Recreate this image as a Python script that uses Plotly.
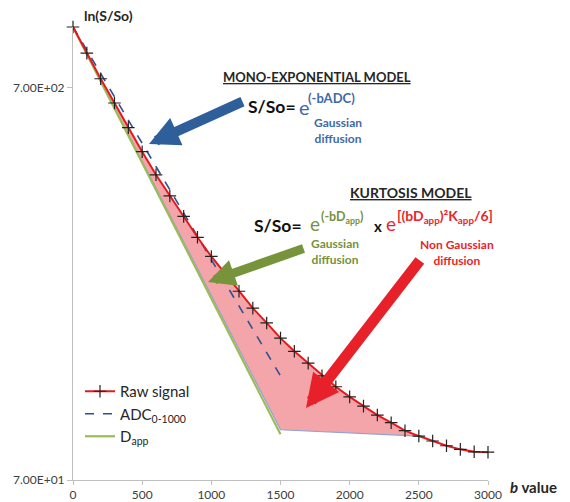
import plotly.graph_objects as go

# ---- data ----
b_values = [0, 100, 200, 300, 400, 500, 600, 700, 800, 900, 1000,
            1100, 1200, 1300, 1400, 1500, 1600, 1700, 1800, 1900, 2000,
            2100, 2200, 2300, 2400, 2500, 2600, 2700, 2800, 2900, 3000]
raw_signal = [1000, 858, 738, 640, 554, 481, 420, 371, 329, 291, 260,
              235, 212, 192, 176, 161, 149, 139, 129, 121, 114,
              108, 102.5, 98, 93.5, 90.6, 88.0, 85.6, 83.8, 82.6, 82.4]
adc_b = [0, 1500]
adc_v = [1000, 129]
dapp_b = [0, 1500]
dapp_v = [1000, 91.5]
lower_b = [0, 1500, 2500]
lower_v = [1000, 94, 90.6]
y_tickvals = [70, 700]
y_ticktext = ["7.00E+01", "7.00E+02"]
x_tickvals = [0, 500, 1000, 1500, 2000, 2500, 3000]

FONT = "Lato"
L, R, T, B = 73, 82, 27, 22
W, H = 570, 502
PW, PH = W - L - R, H - T - B


def px(x):
    return (x - L) / PW


def py(y):
    return (H - B - y) / PH


fig = go.Figure()

# filled region between raw signal and the D_app boundary
n_fill = b_values.index(lower_b[-1]) + 1
fill_x = b_values[:n_fill] + lower_b[::-1][1:]
fill_y = raw_signal[:n_fill] + lower_v[::-1][1:]
fig.add_trace(go.Scatter(x=fill_x, y=fill_y, fill="toself", mode="lines",
                         fillcolor="rgba(242,160,164,0.95)",
                         line=dict(width=0), showlegend=False, hoverinfo="skip"))
fig.add_trace(go.Scatter(x=lower_b, y=lower_v, mode="lines",
                         line=dict(color="#8EA2D4", width=1.2),
                         showlegend=False, hoverinfo="skip"))
fig.add_trace(go.Scatter(x=dapp_b, y=dapp_v, mode="lines", name="D<sub>app</sub>",
                         line=dict(color="#9BBB59", width=2.2), legendrank=3))
fig.add_trace(go.Scatter(x=adc_b, y=adc_v, mode="lines", name="ADC<sub>0-1000</sub>",
                         line=dict(color="#2F4F8F", width=1.6, dash="dash"), legendrank=2))
fig.add_trace(go.Scatter(x=b_values, y=raw_signal, mode="lines+markers", name="Raw signal",
                         line=dict(color="#E41A1C", width=2),
                         marker=dict(symbol="cross-thin", size=9,
                                     line=dict(color="#222222", width=1.2)),
                         cliponaxis=False, legendrank=1))

ann = []


def txt(text, x, y, size, color="#1a1a1a", xanchor="center", yanchor="middle", align="center"):
    ann.append(dict(text=text, x=px(x), y=py(y), xref="paper", yref="paper",
                    showarrow=False, xanchor=xanchor, yanchor=yanchor, align=align,
                    font=dict(family=FONT, size=size, color=color)))


def arrow(tail, tip, color, width, size):
    ann.append(dict(text="", x=px(tip[0]), y=py(tip[1]), xref="paper", yref="paper",
                    ax=tail[0] - tip[0], ay=tail[1] - tip[1], showarrow=True,
                    arrowhead=2, arrowsize=size, arrowwidth=width, arrowcolor=color,
                    standoff=0, startstandoff=0))


BLUE = "#3F68A8"
GREEN = "#76923C"
RED = "#E8262A"

txt("<b>ln(S/So)</b>", 108, 15, 14, "#262626")
txt("<b><i>b</i> value</b>", 533, 487, 15, "#262626")

# mono-exponential block
txt("<b><u>MONO-EXPONENTIAL MODEL</u></b>", 317, 77, 13, "#262626")
txt("<b>S/So=</b>", 246, 106, 17.5, "#111111", xanchor="left")
txt("e", 297, 107, 20, BLUE, xanchor="left")
txt("<b>(-bADC)</b>", 306, 98, 13, BLUE, xanchor="left")
txt("<b>Gaussian<br>diffusion</b>", 338, 131, 12, BLUE)

# kurtosis block
txt("<b><u>KURTOSIS MODEL</u></b>", 411, 192, 14, "#262626")
txt("<b>S/So=</b>", 252, 225, 17.5, "#111111", xanchor="left")
txt("e", 308, 223, 19, GREEN, xanchor="left")
txt("<b>(-bD<sub>app</sub>)</b>", 319, 217, 12.5, GREEN, xanchor="left")
txt("<b>x</b>", 372, 226, 15, "#111111", xanchor="left")
txt("e", 384, 223, 19, RED, xanchor="left")
txt("<b>[(bD<sub>app</sub>)²K<sub>app</sub>/6]</b>", 395, 216, 14, RED, xanchor="left")
txt("<b>Gaussian<br>diffusion</b>", 335, 251, 12, GREEN)
txt("<b>Non Gaussian<br>diffusion</b>", 457, 252, 12, RED)

arrow((244, 101), (149, 144), "#2F5F9A", 10, 0.6)
arrow((305, 248), (208, 282), "#77933C", 9, 0.6)
arrow((421, 259), (306, 408), "#E8202A", 11, 0.6)

fig.update_layout(
    width=W, height=H, margin=dict(l=L, r=R, t=T, b=B),
    paper_bgcolor="white", plot_bgcolor="white",
    font=dict(family=FONT, size=12, color="#404040"),
    annotations=ann,
    legend=dict(x=px(80), y=py(375), xanchor="left", yanchor="top",
                bgcolor="rgba(0,0,0,0)", font=dict(family=FONT, size=15, color="#262626"),
                tracegroupgap=0, itemwidth=30),
    xaxis=dict(range=[0, 3000], tickvals=x_tickvals, showgrid=False, zeroline=False,
               automargin=False,
               showline=True, linecolor="#BFBFBF", linewidth=1, ticks="outside",
               ticklen=4, tickcolor="#BFBFBF", tickfont=dict(size=12, color="#404040")),
    yaxis=dict(type="log", range=[1.8451, 3.0], tickvals=y_tickvals, ticktext=y_ticktext,
               automargin=False,
               showgrid=False, zeroline=False, showline=True, linecolor="#BFBFBF",
               linewidth=1, ticks="outside", ticklen=5, tickcolor="#BFBFBF",
               tickfont=dict(size=12, color="#404040")),
)

fig.write_html("out.html", config={"displayModeBar": False},
               post_script="document.body.style.margin='0px';")
